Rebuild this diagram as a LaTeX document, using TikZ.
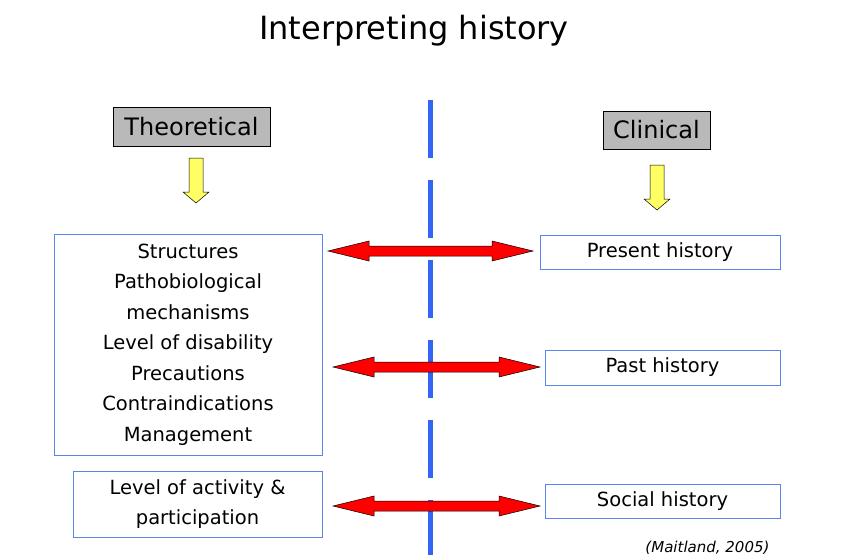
\documentclass[tikz,border=0pt]{standalone}
\usepackage{fontspec}
\setmainfont{DejaVu Sans}
\definecolor{dashblue}{RGB}{50,100,245}
\definecolor{boxblue}{RGB}{90,130,240}
\definecolor{yelfill}{RGB}{255,255,100}
\begin{document}
\begin{tikzpicture}[x=1pt,y=-1pt,
 bx/.style={draw=boxblue,line width=0.8pt,fill=white,inner sep=0pt},
 hd/.style={draw=black,fill=gray!55,line width=0.6pt,inner sep=0pt},
 txt/.style={font=\fontsize{19.5}{30.5}\selectfont,align=center},
 red/.style={fill=red,draw=black,line width=0.5pt},
 yel/.style={fill=yelfill,draw=black,line width=0.5pt}]
\useasboundingbox (0,0) rectangle (858,559);
\draw[line width=5pt,dashblue,dash pattern=on 58pt off 22pt] (430,100) -- (430,555);
\node[font=\fontsize{32}{38}\selectfont] (title) at (414,31) {Interpreting history};
\node[hd,minimum width=157pt,minimum height=39pt,font=\fontsize{24}{28}\selectfont] (th) at (191.5,126.5) {Theoretical};
\node[hd,minimum width=107pt,minimum height=38pt,font=\fontsize{24}{28}\selectfont] (cl) at (656.5,130) {Clinical};
\node[bx,minimum width=268pt,minimum height=221pt,txt] (L) at (188,344.5) {Structures\\Pathobiological\\mechanisms\\Level of disability\\Precautions\\Contraindications\\Management};
\node[bx,minimum width=249pt,minimum height=66pt,txt] (A) at (197.5,504) {Level of activity \&\\participation};
\node[bx,minimum width=240pt,minimum height=34pt,txt] (P) at (660,252) {Present history};
\node[bx,minimum width=235pt,minimum height=35pt,txt] (Q) at (662.5,367.5) {Past history};
\node[bx,minimum width=235pt,minimum height=34pt,txt] (S) at (662.5,501) {Social history};
\node[font=\itshape\fontsize{15}{18}\selectfont,anchor=east] (cite) at (773,548) {(Maitland, 2005)};
\foreach \xa/\xb/\y in {328/533/251, 333/540/367, 333/540/506}{
 \draw[red] (\xa,\y) -- (\xa+41,\y-10) -- (\xa+41,\y-5) -- (\xb-41,\y-5) -- (\xb-41,\y-10) -- (\xb,\y) -- (\xb-41,\y+10) -- (\xb-41,\y+5) -- (\xa+41,\y+5) -- (\xa+41,\y+10) -- cycle;}
\foreach \x/\ya in {196/158, 657/165}{
 \draw[yel] (\x-7,\ya) -- (\x+7,\ya) -- (\x+7,\ya+34) -- (\x+13,\ya+34) -- (\x,\ya+45) -- (\x-13,\ya+34) -- (\x-7,\ya+34) -- cycle;}
\end{tikzpicture}
\end{document}
